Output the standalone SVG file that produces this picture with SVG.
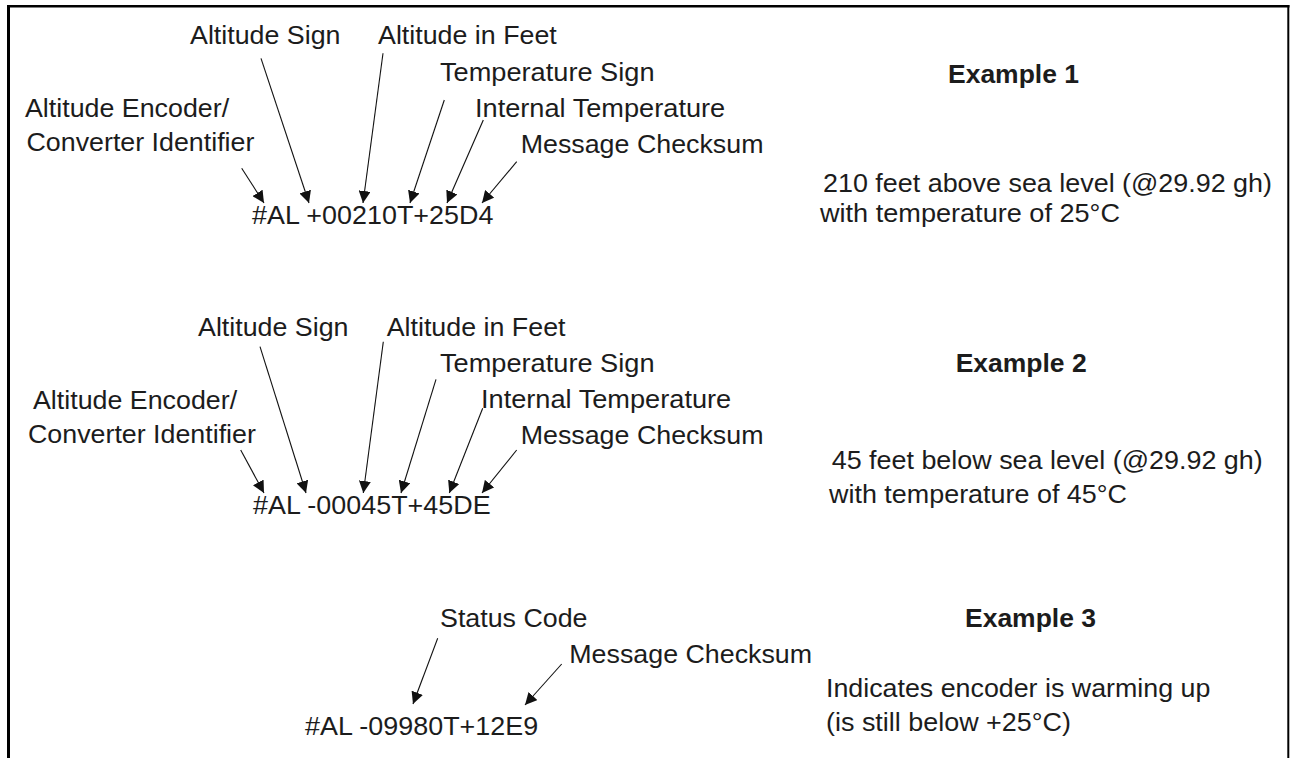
<svg xmlns="http://www.w3.org/2000/svg" width="1292" height="758" viewBox="0 0 1292 758">
<style>
  .t { font-family: "Liberation Sans", Arial, sans-serif; font-size: 25px; fill: #1c1c1c; }
  .b { font-family: "Liberation Sans", Arial, sans-serif; font-size: 25px; font-weight: bold; fill: #1c1c1c; }
  .c { stroke: #111; stroke-width: 1.1; fill: none; marker-end: url(#ah); }
  .frame { stroke: #000; fill: none; }
</style>
<defs>
  <marker id="ah" viewBox="0 0 12 12" refX="12" refY="6" markerWidth="12" markerHeight="12" markerUnits="userSpaceOnUse" orient="auto">
    <path d="M0,0 L12,6 L0,12 z" fill="#111"/>
  </marker>
</defs>
<rect width="1292" height="758" fill="#fff"/>
<g id="frame">
  <line class="frame" x1="8.5" y1="5" x2="8.5" y2="758" stroke-width="3"/>
  <line class="frame" x1="7" y1="6.2" x2="1289.5" y2="6.2" stroke-width="2.5"/>
  <line class="frame" x1="1288.3" y1="5" x2="1288.3" y2="758" stroke-width="2"/>
</g>

<g id="example1">
  <g id="ex1-labels">
    <text class="t" x="190" y="44" textLength="150.5" lengthAdjust="spacingAndGlyphs">Altitude Sign</text>
    <text class="t" x="378" y="44" textLength="178.8" lengthAdjust="spacingAndGlyphs">Altitude in Feet</text>
    <text class="t" x="440" y="81" textLength="214.5" lengthAdjust="spacingAndGlyphs">Temperature Sign</text>
    <text class="t" x="475" y="117" textLength="250.2" lengthAdjust="spacingAndGlyphs">Internal Temperature</text>
    <text class="t" x="520.7" y="153" textLength="242.8" lengthAdjust="spacingAndGlyphs">Message Checksum</text>
    <text class="t" x="25" y="117" textLength="204.1" lengthAdjust="spacingAndGlyphs">Altitude Encoder/</text>
    <text class="t" x="26.5" y="151" textLength="227.9" lengthAdjust="spacingAndGlyphs">Converter Identifier</text>
  </g>
  <text id="ex1-code" class="t" x="252" y="224" textLength="241.4" lengthAdjust="spacingAndGlyphs">#AL +00210T+25D4</text>
  <g id="ex1-desc">
    <text class="b" x="948" y="83" textLength="131" lengthAdjust="spacingAndGlyphs">Example 1</text>
    <text class="t" x="823" y="192" textLength="449" lengthAdjust="spacingAndGlyphs">210 feet above sea level (@29.92 gh)</text>
    <text class="t" x="820" y="222" textLength="300" lengthAdjust="spacingAndGlyphs">with temperature of 25°C</text>
  </g>
</g>

<g id="example2">
  <g id="ex2-labels">
    <text class="t" x="198" y="336" textLength="150.5" lengthAdjust="spacingAndGlyphs">Altitude Sign</text>
    <text class="t" x="386.7" y="336" textLength="178.8" lengthAdjust="spacingAndGlyphs">Altitude in Feet</text>
    <text class="t" x="440" y="372" textLength="214.5" lengthAdjust="spacingAndGlyphs">Temperature Sign</text>
    <text class="t" x="481" y="408" textLength="250.2" lengthAdjust="spacingAndGlyphs">Internal Temperature</text>
    <text class="t" x="520.7" y="444" textLength="242.8" lengthAdjust="spacingAndGlyphs">Message Checksum</text>
    <text class="t" x="33" y="409" textLength="204.1" lengthAdjust="spacingAndGlyphs">Altitude Encoder/</text>
    <text class="t" x="28" y="443" textLength="227.9" lengthAdjust="spacingAndGlyphs">Converter Identifier</text>
  </g>
  <text id="ex2-code" class="t" x="253" y="514" textLength="237.6" lengthAdjust="spacingAndGlyphs">#AL -00045T+45DE</text>
  <g id="ex2-desc">
    <text class="b" x="955.7" y="372" textLength="131" lengthAdjust="spacingAndGlyphs">Example 2</text>
    <text class="t" x="831.7" y="469" textLength="431" lengthAdjust="spacingAndGlyphs">45 feet below sea level (@29.92 gh)</text>
    <text class="t" x="829" y="503" textLength="298" lengthAdjust="spacingAndGlyphs">with temperature of 45°C</text>
  </g>
</g>

<g id="example3">
  <g id="ex3-labels">
    <text class="t" x="440" y="626.7" textLength="147.5" lengthAdjust="spacingAndGlyphs">Status Code</text>
    <text class="t" x="569.3" y="663.3" textLength="242.8" lengthAdjust="spacingAndGlyphs">Message Checksum</text>
  </g>
  <text id="ex3-code" class="t" x="305" y="735" textLength="233.2" lengthAdjust="spacingAndGlyphs">#AL -09980T+12E9</text>
  <g id="ex3-desc">
    <text class="b" x="965" y="626.7" textLength="131" lengthAdjust="spacingAndGlyphs">Example 3</text>
    <text class="t" x="826" y="697" textLength="384.3" lengthAdjust="spacingAndGlyphs">Indicates encoder is warming up</text>
    <text class="t" x="826" y="731" textLength="245" lengthAdjust="spacingAndGlyphs">(is still below +25°C)</text>
  </g>
</g>

<g id="connectors">
  <line class="c" x1="241.7" y1="168.3" x2="264" y2="203"/>
  <line class="c" x1="261" y1="58.3" x2="309" y2="203"/>
  <line class="c" x1="383" y1="53.3" x2="363" y2="203"/>
  <line class="c" x1="444.3" y1="100" x2="410" y2="203"/>
  <line class="c" x1="483.3" y1="120" x2="447" y2="203"/>
  <line class="c" x1="516.7" y1="161.7" x2="482" y2="203"/>

  <line class="c" x1="240.7" y1="450" x2="264" y2="493"/>
  <line class="c" x1="260" y1="346.7" x2="306" y2="493"/>
  <line class="c" x1="383.3" y1="341.7" x2="363.3" y2="493"/>
  <line class="c" x1="436" y1="379.3" x2="401" y2="493"/>
  <line class="c" x1="482.7" y1="408.3" x2="449.3" y2="493"/>
  <line class="c" x1="516.7" y1="450" x2="482" y2="493"/>

  <line class="c" x1="437.7" y1="638.3" x2="413" y2="704"/>
  <line class="c" x1="561.7" y1="664" x2="525" y2="705"/>
</g>
</svg>
